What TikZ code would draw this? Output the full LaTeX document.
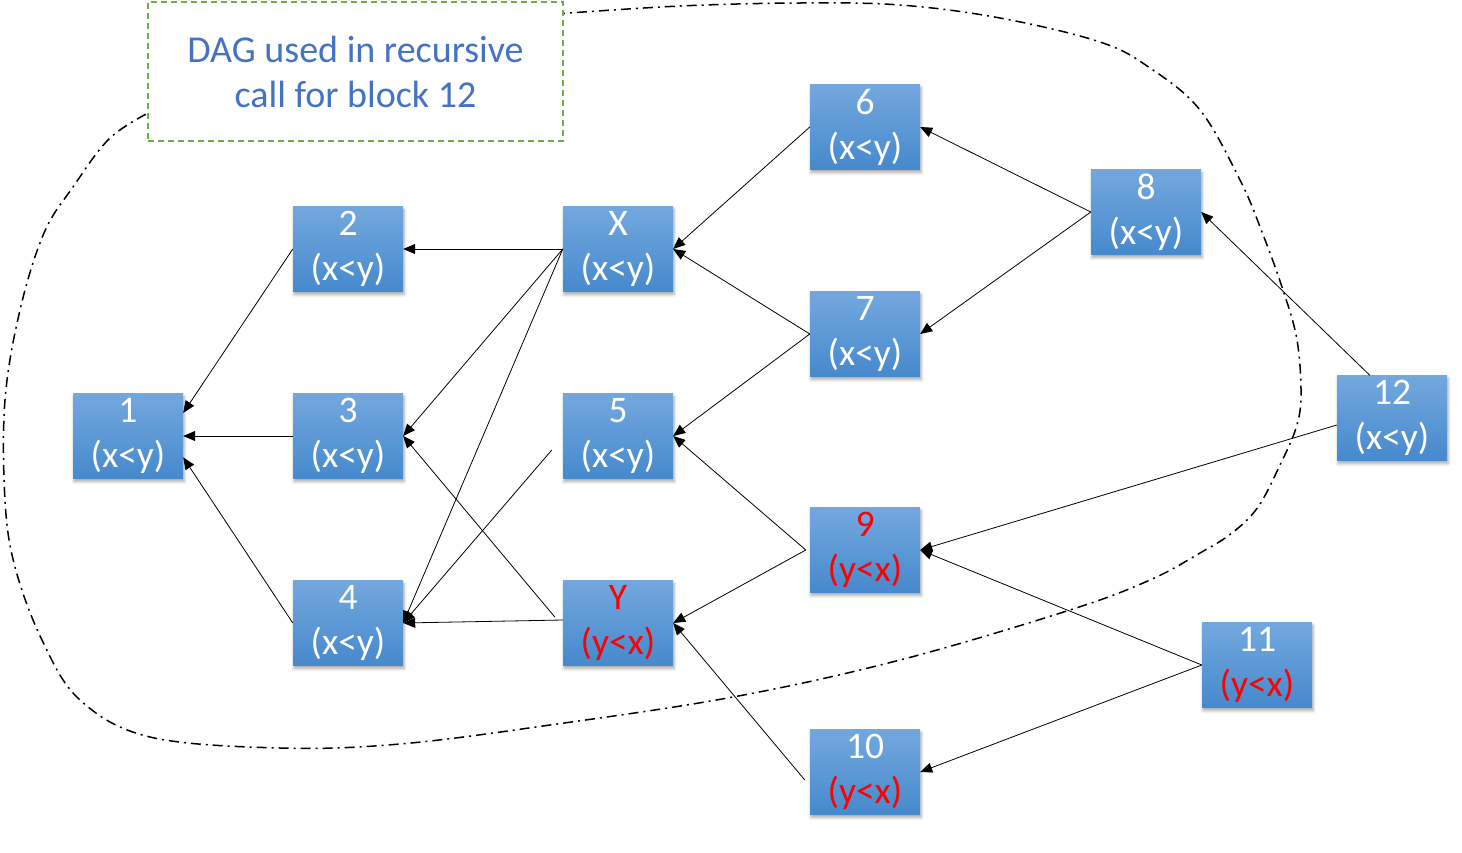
\documentclass[tikz,border=0pt]{standalone}
\usepackage{fontspec}
\setmainfont{Carlito}
\usetikzlibrary{arrows.meta,calc,shadows.blur}
\definecolor{btop}{RGB}{115,168,222}
\definecolor{bbot}{RGB}{70,137,205}
\definecolor{lblue}{RGB}{68,114,196}
\definecolor{lgreen}{RGB}{112,173,71}
\begin{document}
\begin{tikzpicture}[x=1pt,y=-1pt,
  blk/.style={rectangle, minimum width=110pt, minimum height=85pt, inner sep=0pt,
    top color=btop, bottom color=bbot, draw=none, text=white, align=center,
    font=\fontsize{37.5}{45}\selectfont,
    blur shadow={shadow xshift=1pt, shadow yshift=-3pt, shadow blur radius=3pt, shadow opacity=35}},
  edge/.style={-{Triangle[length=12pt,width=10pt]}, line width=0.8pt, black},
  hull/.style={line width=1.5pt, dash pattern=on 10pt off 5pt on 2pt off 5pt},
  lbl/.style={rectangle, draw=lgreen, line width=1.4pt, dash pattern=on 6pt off 4pt,
    fill=white, minimum width=415pt, minimum height=139pt, text=lblue, align=center,
    font=\fontsize{38}{45}\selectfont}]
\useasboundingbox (0,0) rectangle (1462,852);

% enclosing curve
\draw[hull] plot[smooth, tension=0.6] coordinates {
  (555,14) (680,6) (800,3) (900,5) (1000,18) (1100,42) (1150,68) (1200,110)
  (1240,180) (1262,232) (1283,290) (1297,340) (1301,395) (1296,428) (1280,465)
  (1258,507) (1232,533) (1200,553) (1150,580) (1070,610) (900,660) (733,697)
  (550,725) (400,744) (280,748) (150,737) (80,700) (42,640) (15,567) (5,500)
  (5,400) (20,310) (44,233) (73,187) (110,138) (152,111)};

\node[lbl] (lab) at (355.5,71.5) {DAG used in recursive\\call for block 12};

% blocks
\node[blk] (n1) at (128,436) {1\\(x<y)};
\node[blk] (n2) at (348,249) {2\\(x<y)};
\node[blk] (n3) at (348,436) {3\\(x<y)};
\node[blk] (n4) at (348,623) {4\\(x<y)};
\node[blk] (nX) at (618,249) {X\\(x<y)};
\node[blk] (n5) at (618,436) {5\\(x<y)};
\node[blk, text=red] (nY) at (618,623) {Y\\(y<x)};
\node[blk] (n6) at (865,127) {6\\(x<y)};
\node[blk] (n7) at (865,334) {7\\(x<y)};
\node[blk] (n8) at (1146,212) {8\\(x<y)};
\node[blk, text=red] (n9) at (865,550) {9\\(y<x)};
\node[blk] (n10) at (865,772) {10\\\textcolor{red}{(y<x)}};
\node[blk] (n11) at (1257,665) {11\\\textcolor{red}{(y<x)}};
\node[blk] (n12) at (1392,418) {12\\(x<y)};

% connectors
\draw[edge] (n2.west) -- ($(n1.north east)!0.23!(n1.south east)$);
\draw[edge] (n3.west) -- (n1.east);
\draw[edge] (n4.west) -- ($(n1.north east)!0.75!(n1.south east)$);
\draw[edge] (nX.west) -- (n2.east);
\draw[edge] (nX.west) -- (n3.east);
\draw[edge] (nX.west) -- (n4.east);
\draw[edge] ($(n5.west)+(-11,14)$) -- (n4.east);
\draw[edge] ($(nY.west)+(0,-3)$) -- (n4.east);
\draw[edge] ($(nY.west)+(-8,-6)$) -- (n3.east);
\draw[edge] (n6.west) -- (nX.east);
\draw[edge] (n7.west) -- (nX.east);
\draw[edge] (n7.west) -- (n5.east);
\draw[edge] (n8.west) -- (n6.east);
\draw[edge] (n8.west) -- (n7.east);
\draw[edge] ($(n12.north west)+(33,0)$) -- (n8.east);
\draw[edge] ($(n12.west)+(0,7)$) -- (n9.east);
\draw[edge] ($(n9.west)+(-4,0)$) -- (n5.east);
\draw[edge] ($(n9.west)+(-4,0)$) -- (nY.east);
\draw[edge] (n11.west) -- (n9.east);
\draw[edge] (n11.west) -- (n10.east);
\draw[edge] ($(n10.west)+(-5,8)$) -- (nY.east);
\end{tikzpicture}
\end{document}
